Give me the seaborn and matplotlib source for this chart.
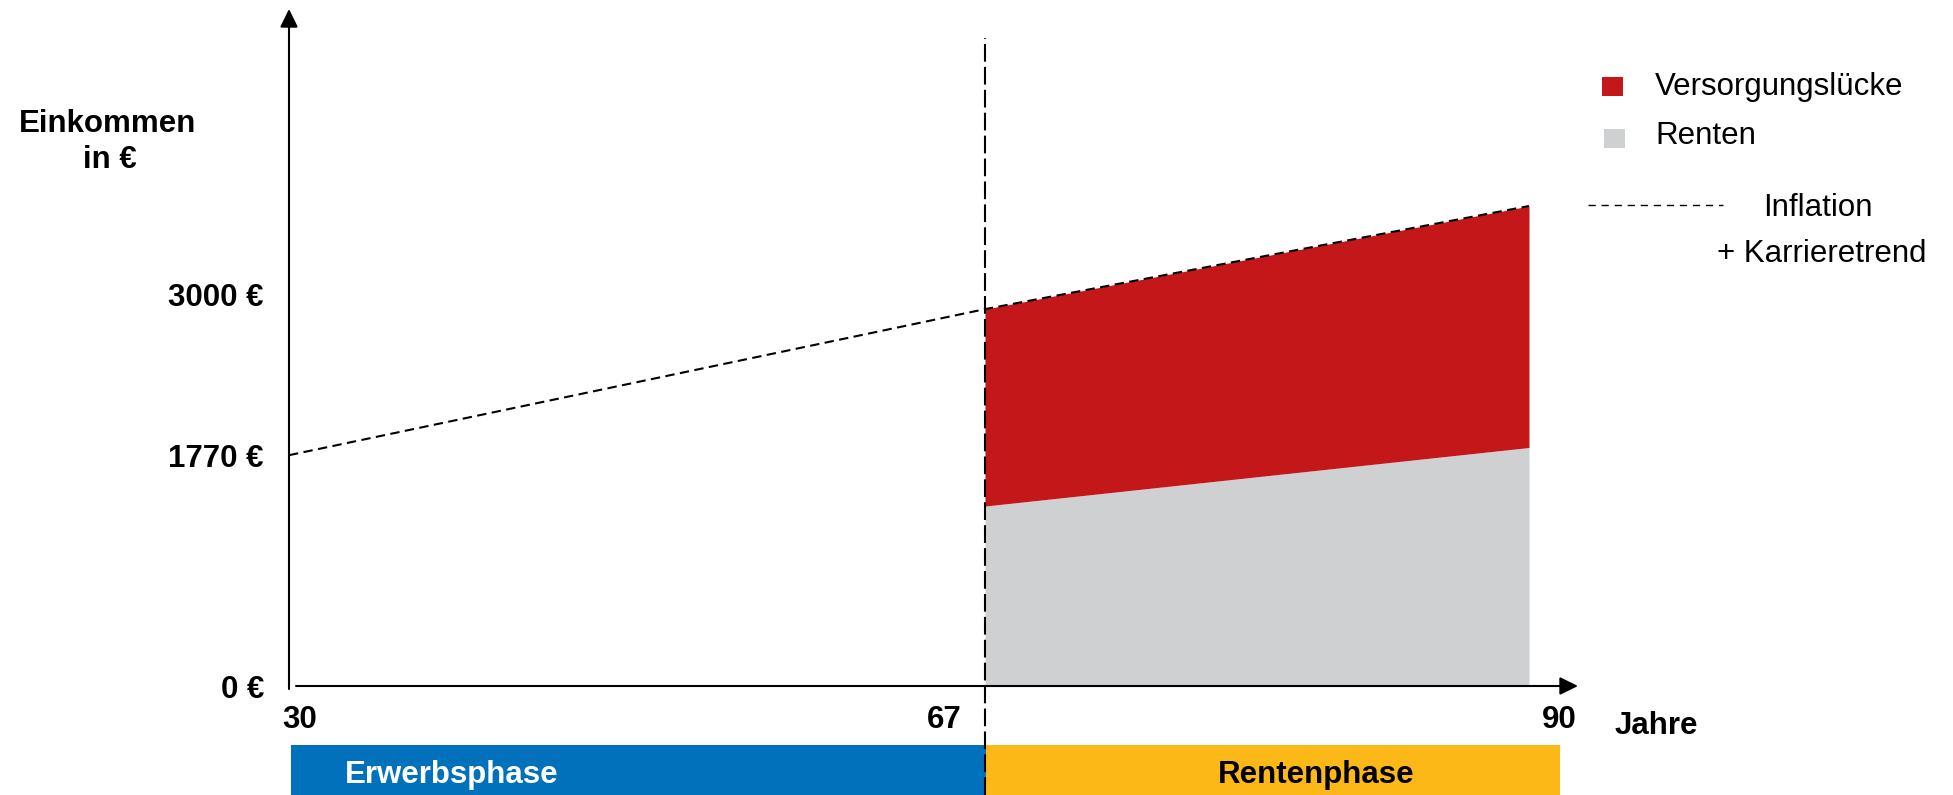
import numpy as np
import pandas as pd
import matplotlib.pyplot as plt
from matplotlib.patches import Rectangle
from matplotlib.lines import Line2D
import seaborn as sns

# Daten
alter = [30, 67, 90]
einkommen_trend = [1770, 2890, 3681]      # Inflation + Karrieretrend
renten_alter = [67, 90]
renten = [1380, 1829]
y_ticks = [0, 1770, 3000]
y_tick_labels = ["0 €", "1770 €", "3000 €"]
phasen = ["Erwerbsphase", "Rentenphase"]
phasen_start = [30, 67]
phasen_ende = [67, 91.3]

rot = "#C4171A"
grau = "#CFD0D2"
blau = "#0071BA"
orange = "#FBB817"

sns.set_theme(style="white")
plt.rcParams["font.family"] = ["Liberation Sans", "DejaVu Sans"]
plt.rcParams["text.color"] = "black"
plt.rcParams["xtick.color"] = "black"
plt.rcParams["ytick.color"] = "black"
plt.rcParams["axes.labelcolor"] = "black"
FS = 22.5

W, H = 1953, 795
fig = plt.figure(figsize=(W / 100, H / 100), dpi=100)


def px(x, y):
    # Pixel (von oben links) -> Figure-Koordinaten
    return x / W, 1 - y / H


# Achse: links 289 px, rechts (Pfeilspitze) 1578 px, unten 686 px, oben 9 px
ax = fig.add_axes([289 / W, 1 - 686 / H, (1578 - 289) / W, (686 - 9) / H])
ax_ph = fig.add_axes([291 / W, 0, (1578 - 291) / W, (795 - 745) / H], sharex=ax)
ax.set_zorder(2)
ax.patch.set_visible(False)

# schematische x-Achse: 30-67 und 67-90 unterschiedlich gestreckt
def fwd(x):
    x = np.asarray(x, float)
    return np.where(x <= 67, (x - 30) * 696 / 37, 696 + (x - 67) * 544 / 23)


def inv(p):
    p = np.asarray(p, float)
    return np.where(p <= 696, 30 + p * 37 / 696, 67 + (p - 696) * 23 / 544)


ax.set_xscale("function", functions=(fwd, inv))
ax.set_xlim(30, float(inv(1289)))
ax.set_ylim(0, 677 / 0.1304)

# Flaechen
trend_rente = np.interp(renten_alter, alter, einkommen_trend)
ax.fill_between(renten_alter, 0, renten, color=grau, lw=0)
ax.fill_between(renten_alter, renten, trend_rente, color=rot, lw=0)

# Trendlinie
df = pd.DataFrame({"Alter": alter, "Einkommen": einkommen_trend})
sns.lineplot(data=df, x="Alter", y="Einkommen", ax=ax, color="black",
             lw=1.5, linestyle=(0, (4.5, 2.6)), legend=False)

# senkrechte Trennlinie bei 67
ax.axvline(67, ymin=-109 / 677, ymax=648 / 677, color="black", lw=1.5,
           linestyle=(0, (8.5, 2.5)), clip_on=False, zorder=5)

# Achsen mit Pfeilen
for s in ax.spines.values():
    s.set_visible(False)
ax.set_xlabel("")
ax.set_ylabel("")
ax.set_xticks([])
ax.annotate("", xy=(0, 1), xycoords="axes fraction", xytext=(0, -3 / 677),
            arrowprops=dict(arrowstyle="-|>,head_length=0.55,head_width=0.27",
                            mutation_scale=20, lw=1.5, color="black",
                            shrinkA=0, shrinkB=0))
ax.annotate("", xy=(1, 0), xycoords="axes fraction", xytext=(7 / 1289, 0),
            arrowprops=dict(arrowstyle="-|>,head_length=0.55,head_width=0.27",
                            mutation_scale=20, lw=1.5, color="black",
                            shrinkA=0, shrinkB=0))

ax.set_yticks(y_ticks, labels=y_tick_labels)
ax.tick_params(axis="y", length=0, pad=18, labelsize=FS, labelcolor="black")
for t in ax.get_yticklabels():
    t.set_fontweight("bold")

# x-Beschriftungen
x_lab = [("30", 30, -7, "left"), ("67", 67, -23, "right"), ("90", 90, 48, "right")]
for txt, xv, dx, ha in x_lab:
    ax.annotate(txt, xy=(xv, 0), xytext=(dx, -42), textcoords="offset pixels",
                ha=ha, va="baseline", fontsize=FS, fontweight="bold",
                color="black", annotation_clip=False)
fig.text(*px(1615, 734), "Jahre", fontsize=FS, fontweight="bold", va="baseline")
fig.text(*px(108, 132), "Einkommen", fontsize=FS, fontweight="bold",
         ha="center", va="baseline")
fig.text(*px(110, 168), "in €", fontsize=FS, fontweight="bold",
         ha="center", va="baseline")

# Phasenbalken
ax_ph.barh(0, np.subtract(phasen_ende, phasen_start), left=phasen_start,
           height=1, color=[blau, orange], lw=0)
ax_ph.set_ylim(-0.5, 0.5)
ax_ph.axis("off")
ax_ph.annotate(phasen[0], xy=(phasen_start[0], 0), xycoords=("data", "axes fraction"),
               xytext=(54, 12), textcoords="offset pixels", color="white",
               fontsize=FS, fontweight="bold", va="baseline")
ax_ph.annotate(phasen[1], xy=(phasen_start[1], 0), xycoords=("data", "axes fraction"),
               xytext=(232, 12), textcoords="offset pixels", color="black",
               fontsize=FS, fontweight="bold", va="baseline")

# Legende
fig.add_artist(Rectangle(px(1602, 96), 21 / W, 19 / H, transform=fig.transFigure,
                         color=rot, lw=0))
fig.add_artist(Rectangle(px(1604, 148), 21 / W, 19 / H, transform=fig.transFigure,
                         color=grau, lw=0))
fig.text(*px(1655, 95), "Versorgungslücke", fontsize=FS, va="baseline")
fig.text(*px(1655, 144), "Renten", fontsize=FS, va="baseline")
x0, y0 = px(1588, 205)
x1, _ = px(1723, 205)
fig.add_artist(Line2D([x0, x1], [y0, y0], transform=fig.transFigure, color="black",
                      lw=1.0, linestyle=(0, (5.2, 4.2))))
fig.text(*px(1818, 216), "Inflation", fontsize=FS, ha="center", va="baseline")
fig.text(*px(1822, 262), "+ Karrieretrend", fontsize=FS, ha="center", va="baseline")

fig.savefig("out.png", dpi=100)
